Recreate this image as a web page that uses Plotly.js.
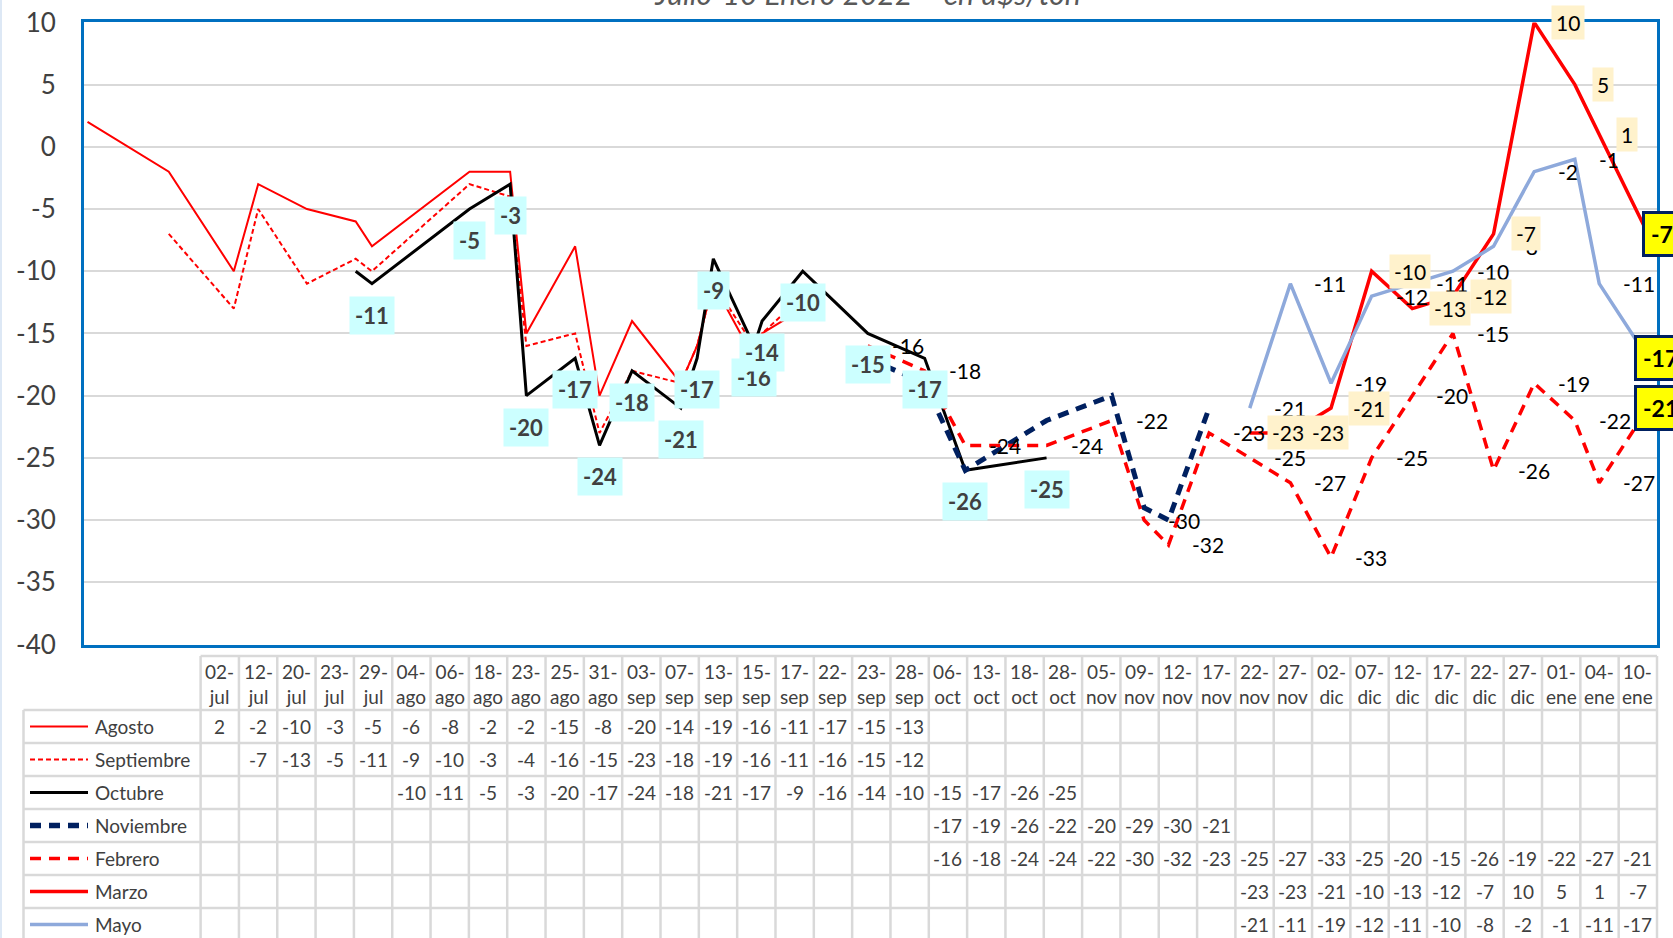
<!DOCTYPE html>
<html><head><meta charset="utf-8">
<script src="https://cdn.plot.ly/plotly-3.0.1.min.js"></script>
<style>html,body{margin:0;padding:0;overflow:hidden;background:#fff}#chart{width:1673px;height:950px}</style>
</head><body><div id="chart"></div>
<script>
const _ = null;
const fechas = ['2021-07-02','2021-07-12','2021-07-20','2021-07-23','2021-07-29','2021-08-04','2021-08-06','2021-08-18','2021-08-23','2021-08-25','2021-08-31','2021-09-03','2021-09-07','2021-09-13','2021-09-15','2021-09-17','2021-09-22','2021-09-23','2021-09-28','2021-10-06','2021-10-13','2021-10-18','2021-10-28','2021-11-05','2021-11-09','2021-11-12','2021-11-17','2021-11-22','2021-11-27','2021-12-02','2021-12-07','2021-12-12','2021-12-17','2021-12-22','2021-12-27','2022-01-01','2022-01-04','2022-01-10'];
const etiquetas = ['02-jul','12-jul','20-jul','23-jul','29-jul','04-ago','06-ago','18-ago','23-ago','25-ago','31-ago','03-sep','07-sep','13-sep','15-sep','17-sep','22-sep','23-sep','28-sep','06-oct','13-oct','18-oct','28-oct','05-nov','09-nov','12-nov','17-nov','22-nov','27-nov','02-dic','07-dic','12-dic','17-dic','22-dic','27-dic','01-ene','04-ene','10-ene'];
const agosto     = [2,-2,-10,-3,-5,-6,-8,-2,-2,-15,-8,-20,-14,-19,-16,-11,-17,-15,-13,_,_,_,_,_,_,_,_,_,_,_,_,_,_,_,_,_,_,_];
const septiembre = [_,-7,-13,-5,-11,-9,-10,-3,-4,-16,-15,-23,-18,-19,-16,-11,-16,-15,-12,_,_,_,_,_,_,_,_,_,_,_,_,_,_,_,_,_,_,_];
const octubre    = [_,_,_,_,_,-10,-11,-5,-3,-20,-17,-24,-18,-21,-17,-9,-16,-14,-10,-15,-17,-26,-25,_,_,_,_,_,_,_,_,_,_,_,_,_,_,_];
const noviembre  = [_,_,_,_,_,_,_,_,_,_,_,_,_,_,_,_,_,_,_,-17,-19,-26,-22,-20,-29,-30,-21,_,_,_,_,_,_,_,_,_,_,_];
const febrero    = [_,_,_,_,_,_,_,_,_,_,_,_,_,_,_,_,_,_,_,-16,-18,-24,-24,-22,-30,-32,-23,-25,-27,-33,-25,-20,-15,-26,-19,-22,-27,-21];
const marzo      = [_,_,_,_,_,_,_,_,_,_,_,_,_,_,_,_,_,_,_,_,_,_,_,_,_,_,_,-23,-23,-21,-10,-13,-12,-7,10,5,1,-7];
const mayo       = [_,_,_,_,_,_,_,_,_,_,_,_,_,_,_,_,_,_,_,_,_,_,_,_,_,_,_,-21,-11,-19,-12,-11,-10,-8,-2,-1,-11,-17];
const nombres = ['Agosto','Septiembre','Octubre','Noviembre','Febrero','Marzo','Mayo'];
const yTicks = [10, 5, 0, -5, -10, -15, -20, -25, -30, -35, -40];
const titulo = 'Julio-10 Enero 2022 – en u$s/ton';

const W = 1673, H = 950;
const F = 'Lato, "Noto Sans", sans-serif';
const series = [agosto, septiembre, octubre, noviembre, febrero, marzo, mayo];
const estilos = [
  {color:'#FF0000', width:2, dash:'solid'},
  {color:'#FF0000', width:2, dash:'5px,3px'},
  {color:'#000000', width:3, dash:'solid'},
  {color:'#002060', width:5, dash:'11px,8px'},
  {color:'#FF0000', width:3.5, dash:'11px,8px'},
  {color:'#FF0000', width:3.5, dash:'solid'},
  {color:'#8EA9DB', width:3.5, dash:'solid'}
];
const px = v => v / W, py = v => 1 - v / H;

const traces = series.map((s, k) => ({
  type:'scatter', mode:'lines', x:fechas, y:s, name:nombres[k],
  line:{color:estilos[k].color, width:estilos[k].width, dash:estilos[k].dash},
  xaxis:'x', yaxis:'y', hoverinfo:'skip'
}));

// Data table geometry (pixels)
const tL = 23.5, tD = 200.6, tR = 1657, tTop = 656, hH = 54, rH = 33;
const cW = (tR - tD) / fechas.length;
const gray = '#d9d9d9';
const tfont = {family:F, size:19, color:'#404040'};

const shapes = [{type:'line', xref:'paper', yref:'paper', x0:px(1), x1:px(1), y0:0, y1:1, line:{color:'#dde8f5', width:2}, layer:'below'}];
const gl = {color:gray, width:2.5};
const bottom = tTop + hH + rH * nombres.length;
shapes.push({type:'line', xref:'paper', yref:'paper', x0:px(tD), x1:px(tR), y0:py(tTop), y1:py(tTop), line:gl});
for (let r = 0; r <= nombres.length; r++) {
  const y = tTop + hH + rH * r;
  shapes.push({type:'line', xref:'paper', yref:'paper', x0:px(tL), x1:px(tR), y0:py(y), y1:py(y), line:gl});
}
shapes.push({type:'line', xref:'paper', yref:'paper', x0:px(tL), x1:px(tL), y0:py(tTop + hH), y1:py(bottom), line:gl});
for (let k = 0; k <= fechas.length; k++) {
  const x = tD + cW * k;
  shapes.push({type:'line', xref:'paper', yref:'paper', x0:px(x), x1:px(x), y0:py(tTop), y1:py(bottom), line:gl});
}

const annotations = [];
// header (date labels)
etiquetas.forEach((t, k) => {
  annotations.push({xref:'paper', yref:'paper', x:px(tD + cW * (k + 0.5)), y:py(tTop + hH / 2 + 1), xanchor:'center', yanchor:'middle',
    showarrow:false, text:t.replace('-', '-<br>'), font:tfont});
});
// rows: legend key + name + values
nombres.forEach((n, k) => {
  const yc = py(tTop + hH + rH * k + rH / 2);
  shapes.push({type:'line', xref:'paper', yref:'paper', x0:px(30), x1:px(88), y0:yc, y1:yc,
    line:{color:estilos[k].color, width:estilos[k].width + (k===3?0.5:0), dash:estilos[k].dash}});
  annotations.push({xref:'paper', yref:'paper', x:px(93), y:yc, xanchor:'left', yanchor:'middle', showarrow:false,
    text:n, font:tfont});
  series[k].forEach((v, i) => {
    if (v === null) return;
    annotations.push({xref:'paper', yref:'paper', x:px(tD + cW * (i + 0.5)), y:yc, xanchor:'center', yanchor:'middle',
      showarrow:false, text:String(v), font:tfont});
  });
});

function lastIdx(s){ let j = -1; s.forEach((v,i)=>{ if(v!==null) j=i; }); return j; }
function firstIdx(s){ return s.findIndex(v => v !== null); }

// Octubre labels (cyan boxes below)
octubre.forEach((v, i) => {
  if (v === null || i === firstIdx(octubre)) return;
  annotations.push({x:fechas[i], y:v, xref:'x', yref:'y', showarrow:false, text:'<b>'+v+'</b>',
    yanchor:'top', yshift:-12, bgcolor:'#CCFFFF', borderpad:5,
    font:{family:F, size:22, color:'#404040'}});
});
// plain / beige labels, yellow boxes on the last values
[[febrero, null], [mayo, null], [marzo, '#FFF2CC']].forEach(([s, bg]) => {
  const L = lastIdx(s);
  s.forEach((v, i) => {
    if (v === null) return;
    if (i === L) {
      annotations.push({x:fechas[i], y:v, xref:'x', yref:'y', showarrow:false, text:'<b>'+v+'</b>',
        xanchor:'left', yanchor:'middle', xshift:(s===marzo? -6 : -14), bgcolor:'#FFFF00', bordercolor:'#002060',
        borderwidth:3, borderpad:6, font:{family:F, size:23, color:'#000'}});
      return;
    }
    const a = {x:fechas[i], y:v, xref:'x', yref:'y', showarrow:false, text:String(v),
      xanchor:'left', yanchor:'middle', xshift:22, font:{family:F, size:21, color:'#000'}};
    if (bg) { a.bgcolor = bg; a.borderpad = 4; a.xshift = 17; }
    annotations.push(a);
  });
});

const layout = {
  width:W, height:H, margin:{l:0, r:0, t:0, b:0}, paper_bgcolor:'#fff', plot_bgcolor:'#fff', showlegend:false,
  title:{text:'<i>'+titulo+'</i>', font:{family:F, size:30, color:'#595959'}, xref:'container', yref:'container',
    x:px(868), xanchor:'center', y:py(5), yanchor:'bottom'},
  xaxis:{type:'date', domain:[px(84), px(1657)], range:['2021-07-01 13:40','2022-01-11 02:35'],
    showgrid:false, showticklabels:false, ticks:'', zeroline:false,
    showline:true, mirror:true, linecolor:'#0070C0', linewidth:3, automargin:false},
  yaxis:{domain:[py(644.5), py(22.4)], range:[-40, 10], tickmode:'array', tickvals:yTicks,
    ticktext:yTicks.map(v => String(v)), showgrid:true, gridcolor:'#d9d9d9', gridwidth:2,
    zeroline:false, showline:true, mirror:true, linecolor:'#0070C0', linewidth:3, ticks:'',
    ticklabelstandoff:20, tickfont:{family:F, size:26, color:'#404040'}, automargin:false},
  shapes:shapes, annotations:annotations
};
Plotly.newPlot('chart', traces, layout, {displayModeBar:false, staticPlot:true});
</script></body></html>
